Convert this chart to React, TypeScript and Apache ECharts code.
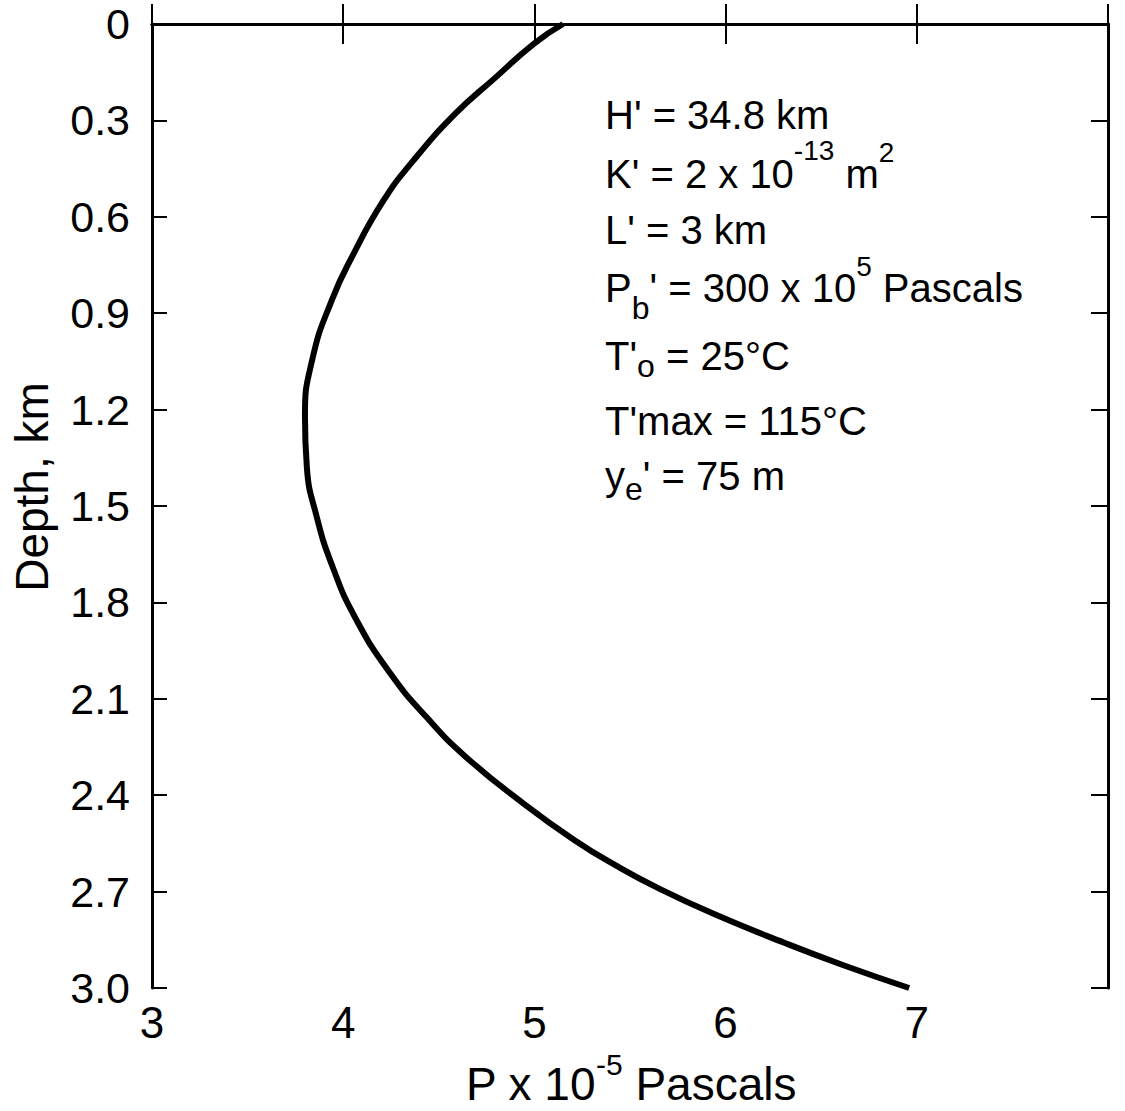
import React, { useEffect, useRef } from "react";
import * as echarts from "echarts";

// Depth (km) and pressure (P x 10^-5 Pascals)
const depthKm = [0, 0.06, 0.17, 0.28, 0.43, 0.55, 0.72, 0.86, 1.04, 1.22, 1.38, 1.53, 1.69, 1.85, 2.02, 2.16, 2.28, 2.42, 2.54, 2.62, 2.69, 2.77, 2.86, 2.93, 3.0];
const pressure = [5.15, 5.0, 4.79, 4.585, 4.36, 4.21, 4.05, 3.94, 3.84, 3.8, 3.81, 3.86, 3.945, 4.065, 4.245, 4.44, 4.64, 4.93, 5.21, 5.43, 5.65, 5.94, 6.31, 6.62, 6.96];

const xTicks = [3, 4, 5, 6, 7];
const yTickLabels = ["0", "0.3", "0.6", "0.9", "1.2", "1.5", "1.8", "2.1", "2.4", "2.7", "3.0"];

const annotationLines = [
  "H' = 34.8 km",
  "K' = 2 x 10{sup|-13} m{sup2|2}",
  "L' = 3 km",
  "P{subb|b}' = 300 x 10{sup2|5} Pascals",
  "T'{subo|o} = 25°C",
  "T'max = 115°C",
  "y{sube|e}' = 75 m",
];
const annotationY = [115, 174, 230, 288, 356, 421, 476];

const FONT = "'Liberation Sans', Arial, sans-serif";

export default function App() {
  const ref = useRef<HTMLDivElement>(null);
  useEffect(() => {
    if (!ref.current) return;
    const chart = echarts.init(ref.current, null, { renderer: "svg" });
    const data = depthKm.map((d, i) => [pressure[i], d]);
    const L = 64;
    const rich = {
      sup: { fontSize: 28, fontFamily: FONT, fill: "#000", height: 16, verticalAlign: "top" },
      sup2: { fontSize: 28, fontFamily: FONT, fill: "#000", height: 20, verticalAlign: "top" },
      subb: { fontSize: 32, fontFamily: FONT, fill: "#000", height: 24, verticalAlign: "bottom" },
      subo: { fontSize: 32, fontFamily: FONT, fill: "#000", height: 44, verticalAlign: "bottom" },
      sube: { fontSize: 32, fontFamily: FONT, fill: "#000", height: 38, verticalAlign: "bottom" },
    };
    const annotations = annotationLines.map((t, i) => ({
      type: "text",
      x: 605,
      y: annotationY[i],
      style: {
        text: t,
        fontSize: 40,
        fontFamily: FONT,
        fill: "#000",
        lineHeight: L,
        align: "left",
        verticalAlign: "middle",
        rich,
      },
    }));
    const axisLineStyle = { color: "#000", width: 3 };
    chart.setOption({
      animation: false,
      backgroundColor: "#fff",
      grid: { left: 152, right: 17, top: 24, bottom: 123, containLabel: false },
      xAxis: [
        {
          type: "value",
          position: "bottom",
          min: 3,
          max: 8,
          interval: 1,
          axisLine: { show: true, lineStyle: axisLineStyle },
          axisTick: { show: true, inside: true, length: 20, lineStyle: { color: "#000", width: 2 } },
          axisLabel: {
            show: true,
            margin: 12,
            fontSize: 44,
            fontFamily: FONT,
            color: "#000",
            formatter: (v: number) => (xTicks.includes(Math.round(v)) ? String(Math.round(v)) : ""),
          },
          splitLine: { show: false },
        },
        {
          type: "value",
          position: "top",
          min: 3,
          max: 8,
          interval: 1,
          axisLine: { show: true, lineStyle: axisLineStyle },
          axisTick: { show: true, inside: true, length: 20, lineStyle: { color: "#000", width: 2 } },
          axisLabel: { show: false },
          splitLine: { show: false },
        },
      ],
      yAxis: [
        {
          type: "value",
          position: "left",
          inverse: true,
          min: 0,
          max: 3,
          interval: 0.3,
          axisLine: { show: true, lineStyle: axisLineStyle },
          axisTick: { show: true, inside: true, length: 15, lineStyle: { color: "#000", width: 2 } },
          axisLabel: {
            show: true,
            margin: 22,
            fontSize: 43,
            fontFamily: FONT,
            color: "#000",
            formatter: (v: number) => yTickLabels[Math.round(v / 0.3)] ?? "",
          },
          splitLine: { show: false },
        },
        {
          type: "value",
          position: "right",
          inverse: true,
          min: 0,
          max: 3,
          interval: 0.3,
          axisLine: { show: true, lineStyle: axisLineStyle },
          axisTick: { show: true, inside: true, length: 17, lineStyle: { color: "#000", width: 2 } },
          axisLabel: { show: false },
          splitLine: { show: false },
        },
      ],
      series: [
        {
          type: "line",
          xAxisIndex: 0,
          yAxisIndex: 0,
          data,
          smooth: 0.5,
          showSymbol: false,
          symbol: "none",
          lineStyle: { color: "#000", width: 6 },
          clip: false,
        },
      ],
      graphic: [
        {
          type: "text",
          x: 32,
          y: 487,
          rotation: Math.PI / 2,
          style: {
            text: "Depth, km",
            fontSize: 46,
            fontFamily: FONT,
            fill: "#000",
            align: "center",
            verticalAlign: "middle",
          },
        },
        {
          type: "text",
          x: 631,
          y: 1084,
          style: {
            text: "P x 10{sup|-5} Pascals",
            fontSize: 46,
            fontFamily: FONT,
            fill: "#000",
            lineHeight: 70,
            align: "center",
            verticalAlign: "middle",
            rich: {
              sup: { fontSize: 30, fontFamily: FONT, fill: "#000", height: 30, verticalAlign: "top" },
            },
          },
        },
        ...annotations,
      ],
    });
    return () => chart.dispose();
  }, []);
  return (
    <div
      ref={ref}
      style={{ position: "fixed", left: 0, top: 0, width: 1125, height: 1111, background: "#fff" }}
    />
  );
}
